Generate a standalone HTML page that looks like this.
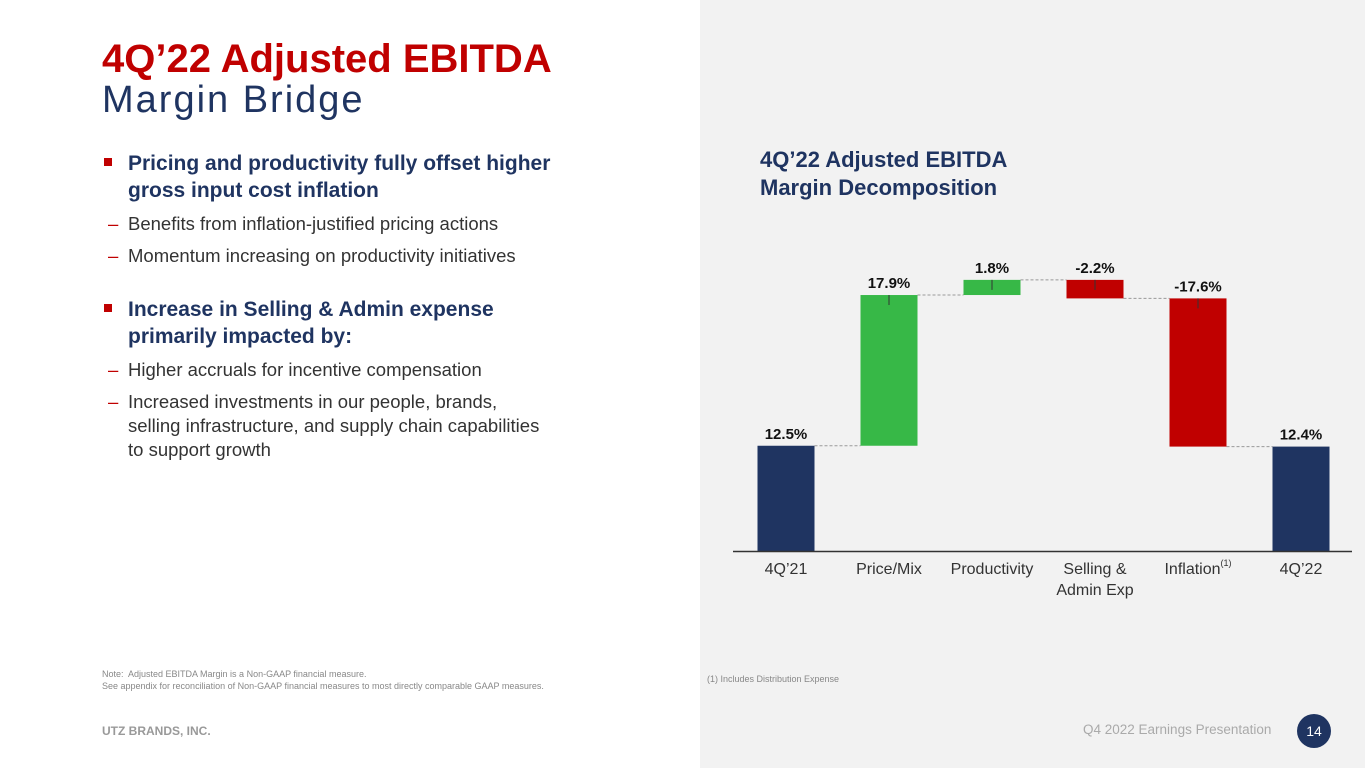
<!DOCTYPE html>
<html><head><meta charset="utf-8"><style>
body{margin:0;width:1365px;height:768px;position:relative;overflow:hidden;background:#fff;font-family:"Liberation Sans",sans-serif;}
.abs{position:absolute;}
#right{left:700px;top:0;width:665px;height:768px;background:#f2f2f2;}
.b{color:#1f3461;font-weight:bold;font-size:21px;line-height:27px;}
.s{color:#333;font-size:18.5px;line-height:24px;}
.sq{display:inline-block;width:8px;height:8px;background:#c00000;position:absolute;left:-24px;top:8px;}
.dash{color:#c00000;position:absolute;left:-20px;}
</style></head><body>
<div id="right" class="abs"></div>
<div class="abs" style="left:102px;top:36px;color:#c00000;font-weight:bold;font-size:40px;line-height:46px;">4Q’22 Adjusted EBITDA</div>
<div class="abs" style="left:102px;top:78px;color:#1f3461;font-size:38px;line-height:44px;letter-spacing:2px;">Margin Bridge</div>

<div class="abs" style="left:128px;top:150px;width:490px;">
<div style="position:relative;width:470px" class="b"><span class="sq"></span>Pricing and productivity fully offset higher gross input cost inflation</div>
<div style="position:relative;margin-top:8px" class="s"><span class="dash">–</span>Benefits from inflation-justified pricing actions</div>
<div style="position:relative;margin-top:8px" class="s"><span class="dash">–</span>Momentum increasing on productivity initiatives</div>
<div style="position:relative;margin-top:28px;width:440px" class="b"><span class="sq"></span>Increase in Selling &amp; Admin expense primarily impacted by:</div>
<div style="position:relative;margin-top:8px" class="s"><span class="dash">–</span>Higher accruals for incentive compensation</div>
<div style="position:relative;margin-top:8px;width:425px" class="s"><span class="dash">–</span>Increased investments in our people, brands, selling infrastructure, and supply chain capabilities to support growth</div>
</div>

<div class="abs b" style="left:760px;top:146px;font-size:22px;line-height:28px;">4Q’22 Adjusted EBITDA<br>Margin Decomposition</div>

<svg class="abs" style="left:0;top:0" width="1365" height="768" id="chart"></svg>

<div class="abs" style="left:102px;top:668px;font-size:9px;line-height:12px;color:#888;">Note:&nbsp; Adjusted EBITDA Margin is a Non-GAAP financial measure.<br>See appendix for reconciliation of Non-GAAP financial measures to most directly comparable GAAP measures.</div>
<div class="abs" style="left:707px;top:674px;font-size:9px;color:#888;">(1) Includes Distribution Expense</div>
<div class="abs" style="left:102px;top:724px;font-size:12px;font-weight:bold;color:#999;">UTZ BRANDS, INC.</div>
<div class="abs" style="left:1083px;top:722px;font-size:13.5px;color:#aaa;">Q4 2022 Earnings Presentation</div>
<div class="abs" style="left:1297px;top:714px;width:34px;height:34px;border-radius:17px;background:#1f3461;color:#fff;font-size:14px;text-align:center;line-height:34px;">14</div>

<script>
const categories=["4Q’21","Price/Mix","Productivity","Selling &\nAdmin Exp","Inflation","4Q’22"];
const values=[12.5,17.9,1.8,-2.2,-17.6,12.4];
const kinds=["total","delta","delta","delta","delta","total"];
const labels=["12.5%","17.9%","1.8%","-2.2%","-17.6%","12.4%"];
const svg=document.getElementById('chart');
const NS='http://www.w3.org/2000/svg';
const base=551,scale=8.42,x0=786,step=103,bw=57;
const y=v=>base-v*scale;
const xc=i=>x0+i*step;
function mk(t,a){const e=document.createElementNS(NS,t);for(const k in a)e.setAttribute(k,a[k]);svg.appendChild(e);return e;}
let run=0;
categories.forEach((c,i)=>{
  let lo,hi,col;
  if(kinds[i]==="total"){lo=0;hi=values[i];run=values[i];col="#1f3461";}
  else{const a=run,b=run+values[i];lo=Math.min(a,b);hi=Math.max(a,b);run=b;col=values[i]>=0?"#37b847":"#c00000";}
  const r=mk('rect',{x:xc(i)-bw/2,y:y(hi),width:bw,height:y(lo)-y(hi),fill:col});
  
  
  if(kinds[i]==="delta"){const tk=mk('line',{x1:xc(i),x2:xc(i),y1:y(hi),y2:y(hi)+10,stroke:'#333','stroke-width':1});
    
    }
  const endV=kinds[i]==="total"?values[i]:run;
  if(i<categories.length-1){const cl=mk('line',{x1:xc(i)+bw/2,x2:xc(i+1)-bw/2,y1:y(endV),y2:y(endV),stroke:'#999','stroke-width':1,'stroke-dasharray':'3,2'});
    
    }
  const t=mk('text',{x:xc(i),y:y(hi)-7,'text-anchor':'middle','font-size':15,'font-weight':'bold',fill:'#111','font-family':'Liberation Sans'});
  t.textContent=labels[i];
  
  
  c.split("\n").forEach((ln,j)=>{
    const ct=mk('text',{x:xc(i),y:574+j*21,'text-anchor':'middle','font-size':16,fill:'#333','font-family':'Liberation Sans'});
    ct.textContent=ln;
    
    
    if(i===4){const sp=document.createElementNS(NS,'tspan');sp.setAttribute('font-size','9');sp.setAttribute('dy','-8');sp.textContent='(1)';ct.appendChild(sp);}
  });
});
const ax=mk('line',{x1:733,x2:1352,y1:base+0.5,y2:base+0.5,stroke:'#333','stroke-width':1.5});


</script>
</body></html>
